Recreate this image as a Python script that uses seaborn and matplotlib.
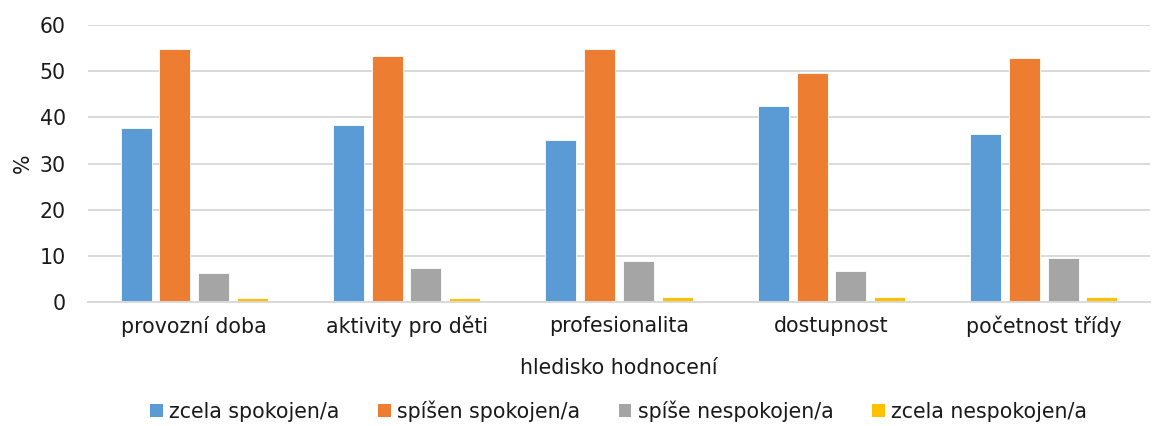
import pandas as pd
import matplotlib.pyplot as plt
import seaborn as sns
from matplotlib.patches import Patch

categories = ['provozní doba', 'aktivity pro děti', 'profesionalita', 'dostupnost', 'početnost třídy']
series = ['zcela spokojen/a', 'spíšen spokojen/a', 'spíše nespokojen/a', 'zcela nespokojen/a']
zcela_spokojen = [37.7, 38.3, 35.0, 42.4, 36.4]
spise_spokojen = [54.9, 53.2, 54.9, 49.6, 52.8]
spise_nespokojen = [6.2, 7.4, 8.8, 6.7, 9.5]
zcela_nespokojen = [0.9, 0.9, 1.0, 1.0, 1.0]
colors = ['#5B9BD5', '#ED7D31', '#A5A5A5', '#FFC000']

values = [zcela_spokojen, spise_spokojen, spise_nespokojen, zcela_nespokojen]
df = pd.DataFrame([
    {'hledisko': c, 'hodnoceni': s, 'pct': v[i]}
    for s, v in zip(series, values)
    for i, c in enumerate(categories)
])

sns.set_style('white')
plt.rcParams['font.family'] = ['DejaVu Sans']
fs = 14.8

fig = plt.figure(figsize=(11.52, 4.26), dpi=100)
ax = fig.add_axes([88 / 1152, 1 - 302 / 426, 1062 / 1152, 277 / 426])

sns.barplot(data=df, x='hledisko', y='pct', hue='hodnoceni', hue_order=series,
            palette=colors, saturation=1, width=0.73, gap=0.2, ax=ax, legend=False,
            edgecolor='white', linewidth=0.6)

ax.set_ylim(0, 60)
ax.set_yticks(range(0, 61, 10))
ax.yaxis.grid(True, color='#d9d9d9', linewidth=1.4)
ax.set_axisbelow(True)
for side in ['top', 'right', 'left']:
    ax.spines[side].set_visible(False)
ax.spines['bottom'].set_color('#d9d9d9')
ax.spines['bottom'].set_linewidth(1.4)
ax.tick_params(axis='both', length=0, labelsize=fs, colors='#1a1a1a')
ax.tick_params(axis='y', pad=16)
ax.tick_params(axis='x', pad=10)
ax.set_xlabel('hledisko hodnocení', fontsize=fs, color='#1a1a1a', labelpad=15)
ax.set_ylabel('%', fontsize=fs, color='#1a1a1a', labelpad=5)

handles = [Patch(facecolor=c, edgecolor='none') for c in colors]
fig.legend(handles, series, loc='lower center', bbox_to_anchor=(0.537, -0.033), ncol=4,
           frameon=False, fontsize=fs, handlelength=0.6, handleheight=0.6,
           handletextpad=0.3, columnspacing=1.9, labelcolor='#1a1a1a')

fig.savefig('out.png', dpi=100)
